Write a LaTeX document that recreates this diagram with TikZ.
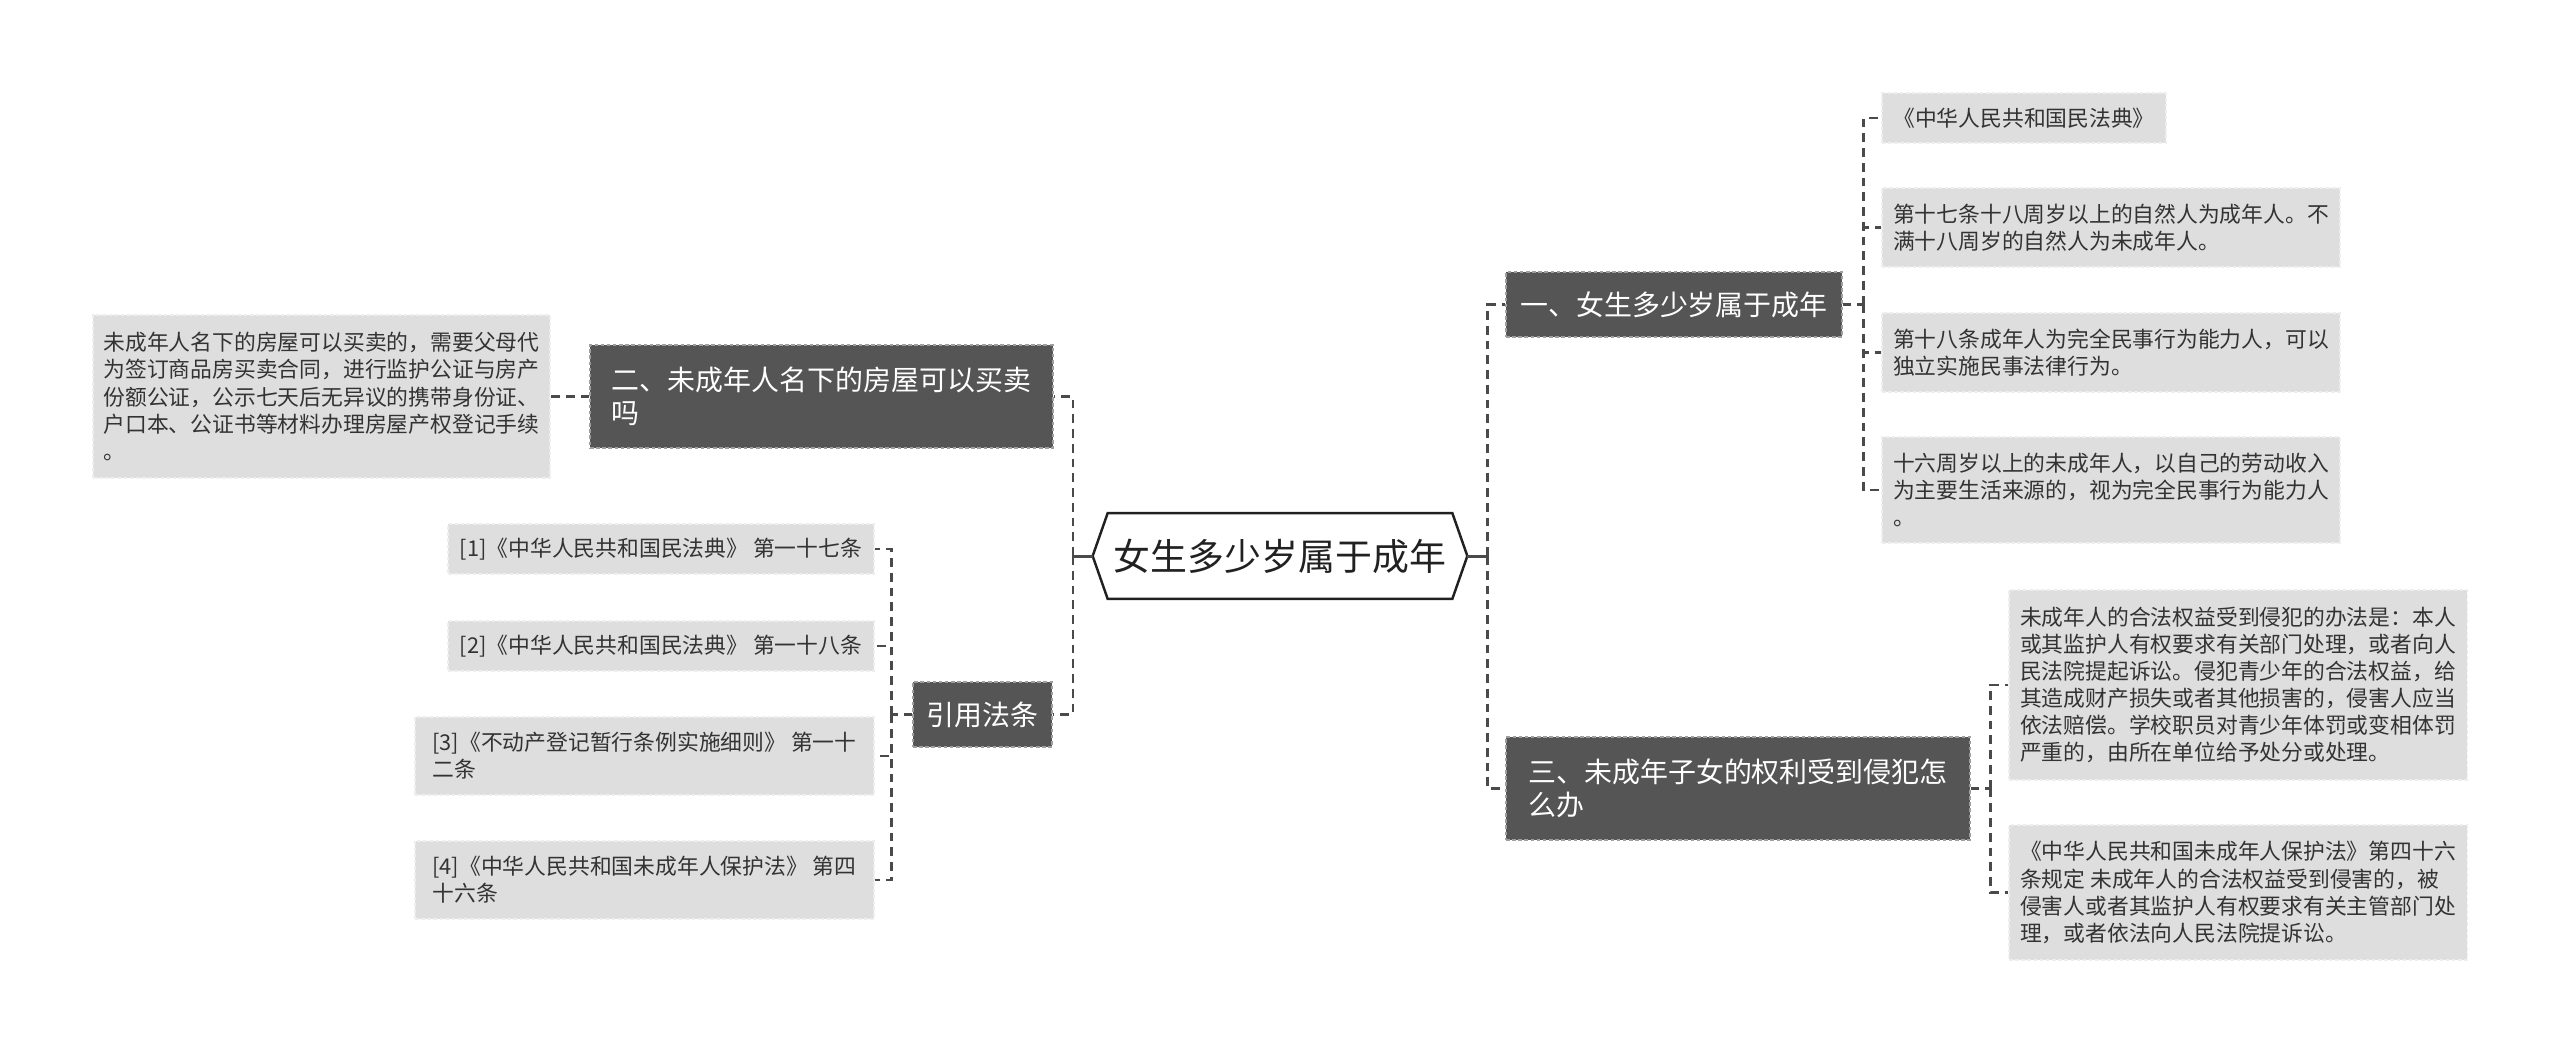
\documentclass[tikz,border=0pt]{standalone}
\usepackage{fontspec}
\setmainfont{Noto Sans CJK SC}
\usetikzlibrary{positioning}
\definecolor{branchgray}{HTML}{555555}
\definecolor{leafgray}{HTML}{DEDEDE}
\definecolor{leafedge}{HTML}{EEEEEE}
\definecolor{linkgray}{HTML}{4A4A4A}
\definecolor{inkgray}{HTML}{333333}

\begin{document}
\begin{tikzpicture}[
  root/.style={rectangle, inner sep=0pt, minimum width=6.88cm, minimum height=1.70cm,
               text=black!87, font=\fontsize{21}{25}\selectfont},
  hexline/.style={draw=black!87, line width=1.4pt, line join=miter},
  branch/.style={rectangle, fill=branchgray, draw=gray!75, dash pattern=on 2pt off 1.5pt,
                 line width=0.6pt, text=white, align=left, inner sep=0pt,
                 font=\fontsize{15.9}{18.8}\selectfont},
  leaf/.style={rectangle, fill=leafgray, draw=leafedge, dash pattern=on 2pt off 1.5pt,
               line width=0.6pt, text=inkgray, align=left, inner sep=0pt,
               font=\fontsize{12.4}{15.4}\selectfont},
  link/.style={draw=linkgray, line width=1.3pt, dash pattern=on 5pt off 3.4pt},
  stem/.style={draw=linkgray, line width=1.7pt}
]
\useasboundingbox (0,0) rectangle (51.2,-21.06);
% centre
\node[root] (root) at (25.60,-11.12) {女生多少岁属于成年};
\coordinate (rootl) at ([xshift=-0.30cm]root.west);
\coordinate (rootr) at ([xshift=0.30cm]root.east);
\draw[hexline] (rootl) -- (root.north west) -- (root.north east) -- (rootr)
               -- (root.south east) -- (root.south west) -- cycle;
% branches
\node[branch, minimum width=9.26cm, minimum height=2.06cm] (b2) at (16.43,-7.93)
     {二、未成年人名下的房屋可以买卖\\吗};
\node[branch, minimum width=2.78cm, minimum height=1.30cm] (b4) at (19.65,-14.29) {引用法条};
\node[branch, minimum width=6.72cm, minimum height=1.30cm] (b1) at (33.48,-6.09)
     {一、女生多少岁属于成年};
\node[branch, minimum width=9.28cm, minimum height=2.06cm] (b3) at (34.76,-15.77)
     {三、未成年子女的权利受到侵犯怎\\么办};
% leaves of branch 1
\node[leaf, minimum width=5.68cm, minimum height=1.00cm] (l1) at (40.48,-2.36)
     {《中华人民共和国民法典》};
\node[leaf, minimum width=9.16cm, minimum height=1.58cm] (l2) at (42.22,-4.55)
     {第十七条十八周岁以上的自然人为成年人。不\\满十八周岁的自然人为未成年人。};
\node[leaf, minimum width=9.16cm, minimum height=1.58cm] (l3) at (42.22,-7.05)
     {第十八条成年人为完全民事行为能力人，可以\\独立实施民事法律行为。};
\node[leaf, minimum width=9.16cm, minimum height=2.12cm] (l4) at (42.22,-9.80)
     {十六周岁以上的未成年人，以自己的劳动收入\\为主要生活来源的，视为完全民事行为能力人\\。};
% leaf of branch 2
\node[leaf, minimum width=9.14cm, minimum height=3.26cm] (m1) at (6.43,-7.93)
     {未成年人名下的房屋可以买卖的，需要父母代\\为签订商品房买卖合同，进行监护公证与房产\\份额公证，公示七天后无异议的携带身份证、\\户口本、公证书等材料办理房屋产权登记手续\\。};
% leaves of branch 3
\node[leaf, minimum width=9.16cm, minimum height=3.80cm] (r1) at (44.76,-13.70)
     {未成年人的合法权益受到侵犯的办法是：本人\\或其监护人有权要求有关部门处理，或者向人\\民法院提起诉讼。侵犯青少年的合法权益，给\\其造成财产损失或者其他损害的，侵害人应当\\依法赔偿。学校职员对青少年体罚或变相体罚\\严重的，由所在单位给予处分或处理。};
\node[leaf, minimum width=9.16cm, minimum height=2.70cm] (r2) at (44.76,-17.85)
     {《中华人民共和国未成年人保护法》第四十六\\条规定 未成年人的合法权益受到侵害的，被\\侵害人或者其监护人有权要求有关主管部门处\\理，或者依法向人民法院提诉讼。};
% cited articles
\node[leaf, minimum width=8.52cm, minimum height=1.00cm] (f1) at (13.22,-10.98)
     {[1]《中华人民共和国民法典》 第一十七条};
\node[leaf, minimum width=8.52cm, minimum height=1.00cm] (f2) at (13.22,-12.92)
     {[2]《中华人民共和国民法典》 第一十八条};
\node[leaf, minimum width=9.18cm, minimum height=1.56cm] (f3) at (12.89,-15.12)
     {[3]《不动产登记暂行条例实施细则》 第一十\\二条};
\node[leaf, minimum width=9.18cm, minimum height=1.56cm] (f4) at (12.89,-17.60)
     {[4]《中华人民共和国未成年人保护法》 第四\\十六条};
% junctions
\coordinate (jl) at ([xshift=-0.40cm]rootl);
\coordinate (jr) at ([xshift=0.40cm]rootr);
\coordinate (j1) at ([xshift=0.42cm]b1.east);
\coordinate (j3) at ([xshift=0.40cm]b3.east);
\coordinate (j4) at ([xshift=-0.42cm]b4.west);
% connectors
\draw[stem] (rootl) -- (jl);
\draw[stem] (rootr) -- (jr);
\draw[link] (jl) |- (b2.east);
\draw[link] (jl) |- (b4.east);
\draw[link] (jr) |- (b1.west);
\draw[link] (jr) |- (b3.west);
\draw[link] (b2.west) -- (m1.east);
\draw[link] (b1.east) -- (j1);
\foreach \n in {l1,l2,l3,l4} \draw[link] (j1) |- (\n.west);
\draw[link] (b3.east) -- (j3);
\foreach \n in {r1,r2} \draw[link] (j3) |- (\n.west);
\draw[link] (b4.west) -- (j4);
\foreach \n in {f1,f2,f3,f4} \draw[link] (j4) |- (\n.east);
\end{tikzpicture}
\end{document}
